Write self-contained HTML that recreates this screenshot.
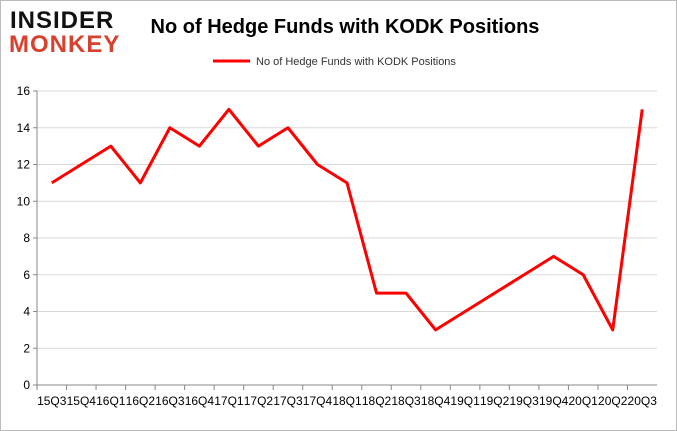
<!DOCTYPE html>
<html><head><meta charset="utf-8"><style>
body{margin:0;width:677px;height:431px;overflow:hidden;background:#fff;font-family:"Liberation Sans",sans-serif;}
svg{display:block}
</style></head><body>
<svg id="c" width="677" height="431">
<rect x="0.5" y="0.5" width="676" height="430" fill="#fff" stroke="#bbb"/>
<text x="10" y="28" font-size="24" font-weight="bold" fill="#111" letter-spacing="1">INSIDER</text>
<text x="9" y="52" font-size="24" font-weight="bold" fill="#d9412f" letter-spacing="1">MONKEY</text>
<text x="345" y="33" font-size="20" font-weight="bold" text-anchor="middle" fill="#000">No of Hedge Funds with KODK Positions</text>
<line x1="213" y1="61" x2="250" y2="61" stroke="#f00" stroke-width="3"/>
<text x="256" y="65" font-size="11" fill="#333">No of Hedge Funds with KODK Positions</text>
<g id="grid"></g><g id="axes"></g><g id="series"></g>
</svg>
<script>
const categories=["15Q3","15Q4","16Q1","16Q2","16Q3","16Q4","17Q1","17Q2","17Q3","17Q4","18Q1","18Q2","18Q3","18Q4","19Q1","19Q2","19Q3","19Q4","20Q1","20Q2","20Q3"];
const values=[11,12,13,11,14,13,15,13,14,12,11,5,5,3,4,5,6,7,6,3,15];
const yTicks=[0,2,4,6,8,10,12,14,16];
const L=37,R=657,T=91,B=385,ymax=16;
const bw=(R-L)/categories.length;
const x=i=>L+bw*(i+0.5);
const y=v=>B-(v/ymax)*(B-T);
const NS="http://www.w3.org/2000/svg";
function mk(t,a,p){const e=document.createElementNS(NS,t);for(const k in a)e.setAttribute(k,a[k]);document.getElementById(p).appendChild(e);return e;}
yTicks.forEach(v=>{
  if(v>0){const g=mk('line',{x1:L,x2:R,y1:y(v),y2:y(v),stroke:'#d9d9d9'},'grid');
  
  }
  const t=mk('text',{x:L-7,y:y(v)+4,'font-size':12,'text-anchor':'end',fill:'#000'},'axes');t.textContent=v;
  
  
  const tk=mk('line',{x1:L-4,x2:L,y1:y(v),y2:y(v),stroke:'#888'},'axes');
  
  
});
const ya=mk('line',{x1:L,x2:L,y1:T,y2:B,stroke:'#888'},'axes');


const xa=mk('line',{x1:L,x2:R,y1:B,y2:B,stroke:'#888'},'axes');


categories.forEach((c,i)=>{
  const tk=mk('line',{x1:L+bw*i,x2:L+bw*i,y1:B,y2:B+5,stroke:'#888'},'axes');
  
  
  const t=mk('text',{x:x(i),y:405,'font-size':12,'text-anchor':'middle',fill:'#000'},'axes');t.textContent=c;
  
  
});
const pl=mk('polyline',{points:values.map((v,i)=>x(i)+','+y(v)).join(' '),fill:'none',stroke:'#f00','stroke-width':3,'stroke-linejoin':'round'},'series');


</script>
</body></html>
